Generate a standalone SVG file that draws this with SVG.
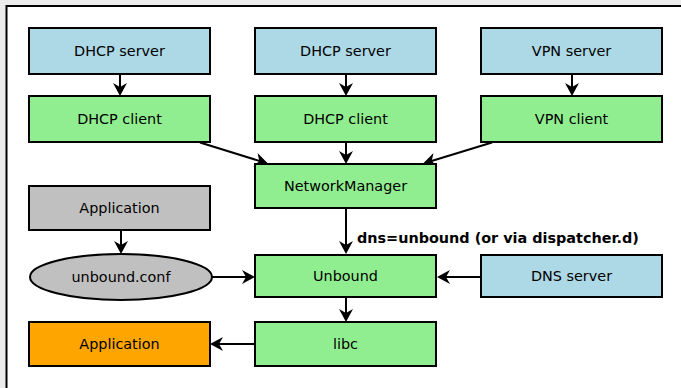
<svg xmlns="http://www.w3.org/2000/svg" width="681" height="388" viewBox="0 0 681 388">
<defs>
<style>
.box{stroke:#000;stroke-width:2}
.blue{fill:#add8e6}.green{fill:#90ee90}.gray{fill:#c0c0c0}.orange{fill:#ffa500}
.t{font-family:"DejaVu Sans",sans-serif;font-size:14.4px;fill:#000;text-anchor:middle}
.lbl{font-family:"DejaVu Sans",sans-serif;font-size:14.4px;font-weight:bold;fill:#000}
.c{stroke:#000;stroke-width:2;fill:none;marker-end:url(#ah)}
</style>
<marker id="ah" markerUnits="userSpaceOnUse" markerWidth="16" markerHeight="16" viewBox="-1 -8 16 16" refX="11" refY="0" orient="auto">
<path d="M13,0 L0,-7 L4,0 L0,7 Z" fill="#000"/>
</marker>
</defs>
<rect x="0" y="0" width="681" height="388" fill="#ececec"/>
<rect x="6.5" y="6" width="700" height="400" fill="#fff" stroke="#000" stroke-width="2"/>
<g id="connectors">
<line class="c" x1="120" y1="74" x2="120" y2="94"/>
<line class="c" x1="346" y1="74" x2="346" y2="94"/>
<line class="c" x1="572" y1="74" x2="572" y2="94"/>
<line class="c" x1="200" y1="142.5" x2="266" y2="163"/>
<line class="c" x1="346" y1="142" x2="346" y2="162"/>
<line class="c" x1="492" y1="142.5" x2="425" y2="163"/>
<line class="c" x1="346" y1="208" x2="346" y2="252"/>
<line class="c" x1="121" y1="230" x2="121" y2="252"/>
<line class="c" x1="212" y1="277" x2="253" y2="277"/>
<line class="c" x1="481" y1="277" x2="439" y2="277"/>
<line class="c" x1="346" y1="298" x2="346" y2="320"/>
<line class="c" x1="255" y1="344" x2="212" y2="344"/>
<text class="lbl" x="357" y="242.5">dns=unbound (or via dispatcher.d)</text>
</g>
<g id="dhcp-server-1"><rect class="box blue" x="29" y="28" width="181" height="46"/><text class="t" x="119.5" y="56">DHCP server</text></g>
<g id="dhcp-server-2"><rect class="box blue" x="255" y="28" width="181" height="46"/><text class="t" x="345.5" y="56">DHCP server</text></g>
<g id="vpn-server"><rect class="box blue" x="481" y="28" width="181" height="46"/><text class="t" x="571.5" y="56">VPN server</text></g>
<g id="dhcp-client-1"><rect class="box green" x="29" y="96" width="181" height="46"/><text class="t" x="119.5" y="124">DHCP client</text></g>
<g id="dhcp-client-2"><rect class="box green" x="255" y="96" width="181" height="46"/><text class="t" x="345.5" y="124">DHCP client</text></g>
<g id="vpn-client"><rect class="box green" x="481" y="96" width="181" height="46"/><text class="t" x="571.5" y="124">VPN client</text></g>
<g id="networkmanager"><rect class="box green" x="255" y="164" width="181" height="44"/><text class="t" x="345.5" y="191">NetworkManager</text></g>
<g id="application-gray"><rect class="box gray" x="29" y="186" width="181" height="44"/><text class="t" x="119.5" y="213">Application</text></g>
<g id="unbound-conf"><ellipse class="box gray" cx="121" cy="277" rx="91" ry="23"/><text class="t" x="121" y="282">unbound.conf</text></g>
<g id="unbound"><rect class="box green" x="255" y="255" width="181" height="42"/><text class="t" x="345.5" y="281">Unbound</text></g>
<g id="dns-server"><rect class="box blue" x="481" y="255" width="181" height="42"/><text class="t" x="571.5" y="281">DNS server</text></g>
<g id="libc"><rect class="box green" x="255" y="322" width="181" height="44"/><text class="t" x="345.5" y="349">libc</text></g>
<g id="application-orange"><rect class="box orange" x="29" y="322" width="181" height="44"/><text class="t" x="119.5" y="349">Application</text></g>
</svg>
